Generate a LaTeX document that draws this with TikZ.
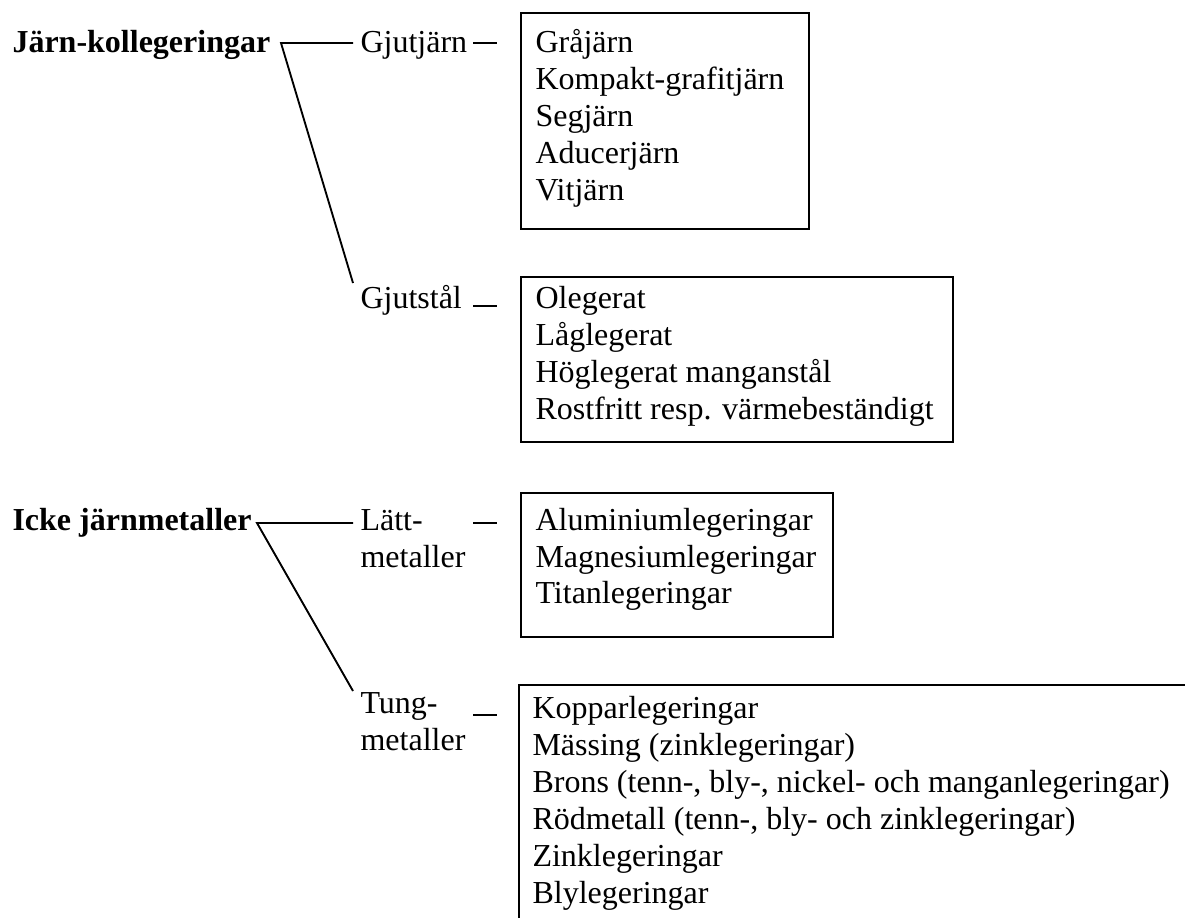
\documentclass[tikz,border=0pt]{standalone}
\usepackage{fontspec}
\setmainfont{Liberation Serif}
\begin{document}
\begin{tikzpicture}[x=0.375pt,y=-0.375pt,
  lbl/.style={anchor=base west,inner sep=0pt,font=\fontsize{12}{14}\selectfont},
  head/.style={anchor=base west,inner sep=0pt,font=\fontsize{12}{14}\selectfont\bfseries},
  conn/.style={line width=0.7pt},
  frame/.style={line width=0.8pt}]
\useasboundingbox (0,0) rectangle (1185,917);

% ---- Järn-kollegeringar ----
\node[head] (jk) at (12,52) {Järn-kollegeringar};
\node[lbl] (gjj) at (360,52) {Gjutjärn};
\node[lbl] (gjs) at (360,308) {Gjutstål};
\coordinate (jkA) at (281,43);
\coordinate (jkB) at (353,43);
\coordinate (jkC) at (353,283);
\draw[conn] (jkB) -- (jkA) -- (jkC);
\coordinate (d1a) at (473,43);  \coordinate (d1b) at (497,43);
\coordinate (d2a) at (473,306); \coordinate (d2b) at (497,306);
\draw[conn] (d1a) -- (d1b);
\draw[conn] (d2a) -- (d2b);

\draw[frame] (521,13) rectangle (809,229);
\node[lbl] (b1a) at (535,52)  {Gråjärn};
\node[lbl] (b1b) at (535,89)  {Kompakt-grafitjärn};
\node[lbl] (b1c) at (535,126) {Segjärn};
\node[lbl] (b1d) at (535,163) {Aducerjärn};
\node[lbl] (b1e) at (535,200) {Vitjärn};

\draw[frame] (521,277) rectangle (953,442);
\node[lbl] (b2a) at (535,308) {Olegerat};
\node[lbl] (b2b) at (535,345) {Låglegerat};
\node[lbl] (b2c) at (535,382) {Höglegerat manganstål};
\node[lbl] (b2d) at (535,419) {Rostfritt resp. värmebeständigt};

% ---- Icke järnmetaller ----
\node[head] (ij) at (12,530) {Icke järnmetaller};
\node[lbl] (la1) at (360,530) {Lätt-};
\node[lbl] (la2) at (360,567) {metaller};
\node[lbl] (tu1) at (360,713) {Tung-};
\node[lbl] (tu2) at (360,750) {metaller};
\coordinate (ijA) at (257,523);
\coordinate (ijB) at (353,523);
\coordinate (ijC) at (353,691);
\draw[conn] (ijB) -- (ijA) -- (ijC);
\coordinate (d3a) at (473,523); \coordinate (d3b) at (497,523);
\coordinate (d4a) at (473,715); \coordinate (d4b) at (497,715);
\draw[conn] (d3a) -- (d3b);
\draw[conn] (d4a) -- (d4b);

\draw[frame] (521,493) rectangle (833,637);
\node[lbl] (b3a) at (535,530) {Aluminiumlegeringar};
\node[lbl] (b3b) at (535,567) {Magnesiumlegeringar};
\node[lbl] (b3c) at (535,603) {Titanlegeringar};

\draw[frame] (1190,685) -- (519,685) -- (519,925);
\node[lbl] (b4a) at (532,718) {Kopparlegeringar};
\node[lbl] (b4b) at (532,755) {Mässing (zinklegeringar)};
\node[lbl] (b4c) at (532,792) {Brons (tenn-, bly-, nickel- och manganlegeringar)};
\node[lbl] (b4d) at (532,829) {Rödmetall (tenn-, bly- och zinklegeringar)};
\node[lbl] (b4e) at (532,866) {Zinklegeringar};
\node[lbl] (b4f) at (532,903) {Blylegeringar};
\end{tikzpicture}
\end{document}
